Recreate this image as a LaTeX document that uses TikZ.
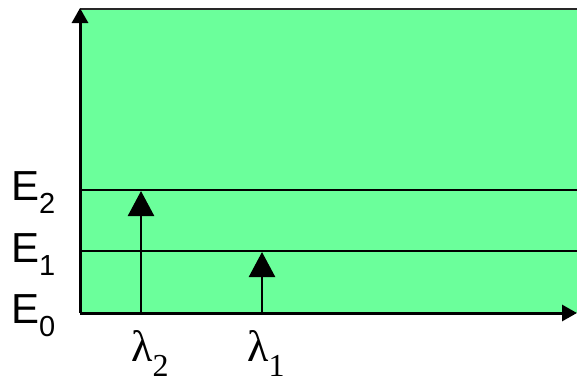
\documentclass[tikz,border=0pt]{standalone}
\usepackage{fontspec}
\setmainfont{Liberation Sans}
\newfontfamily\serifgr{Liberation Serif}
\usetikzlibrary{arrows.meta}
\definecolor{levelgreen}{RGB}{107,255,155}
\definecolor{framegray}{RGB}{40,40,40}
\tikzset{
  axisline/.style={line width=3pt, -{Triangle[length=15pt,width=16pt]}},
  levelline/.style={line width=2pt},
  transarrow/.style={line width=2.5pt, -{Triangle[length=25pt,width=26pt]}},
  elabel/.style={anchor=base west, inner sep=0pt, font=\fontsize{42}{42}\selectfont},
  lamlabel/.style={anchor=base west, inner sep=0pt, font=\serifgr\fontsize{44}{44}\selectfont},
}
\newcommand{\esub}[1]{\raisebox{-13pt}{\fontsize{29}{29}\selectfont #1}}
\newcommand{\lsub}[1]{\raisebox{-15pt}{\fontsize{32}{32}\selectfont #1}}
\begin{document}
\begin{tikzpicture}[x=1pt,y=-1pt]
\useasboundingbox (0,0) rectangle (577,383);
\fill[levelgreen] (80,9) rectangle (577,313);
\draw[line width=2pt, framegray] (80,9) -- (577,9);
% coordinates
\coordinate (O) at (80,313);
\coordinate (ytop) at (80,8);
\coordinate (xend) at (577,313);
\coordinate (e2l) at (80,190);
\coordinate (e2r) at (577,190);
\coordinate (e1l) at (80,251);
\coordinate (e1r) at (577,251);
\coordinate (a2b) at (141,313);
\coordinate (a2t) at (141,191);
\coordinate (a1b) at (262,313);
\coordinate (a1t) at (262,252);
% level lines
\draw[levelline] (e2l) -- (e2r);
\draw[levelline] (e1l) -- (e1r);
% transition arrows
\draw[transarrow] (a2b) -- (a2t);
\draw[transarrow] (a1b) -- (a1t);
% axes
\draw[axisline] (O) -- (ytop);
\draw[axisline] (O) -- (xend);
% labels
\node[elabel] (E2) at (11,200) {E\esub{2}};
\node[elabel] (E1) at (11,262) {E\esub{1}};
\node[elabel] (E0) at (11,323) {E\esub{0}};
\node[lamlabel] (L2) at (131,361) {λ\lsub{2}};
\node[lamlabel] (L1) at (247,361) {λ\lsub{1}};
\end{tikzpicture}
\end{document}
